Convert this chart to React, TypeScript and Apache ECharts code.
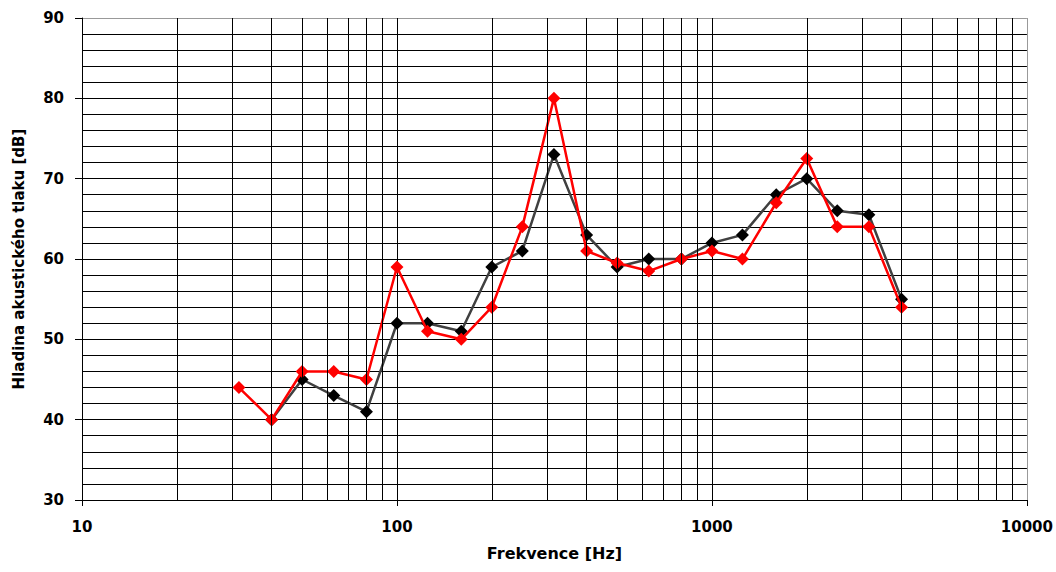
import React, { useEffect, useRef } from "react";
import * as echarts from "echarts";

const frequencies = [31.5, 40, 50, 63, 80, 100, 125, 160, 200, 250, 315, 400, 500, 630, 800, 1000, 1250, 1600, 2000, 2500, 3150, 4000];
const redLevels = [44, 40, 46, 46, 45, 59, 51, 50, 54, 64, 80, 61, 59.5, 58.5, 60, 61, 60, 67, 72.5, 64, 64, 54];
const blackLevels: (number | null)[] = [null, 40, 45, 43, 41, 52, 52, 51, 59, 61, 73, 63, 59, 60, 60, 62, 63, 68, 70, 66, 65.5, 55];
const minorFrequencies = [
  20, 30, 40, 50, 60, 70, 80, 90,
  200, 300, 400, 500, 600, 700, 800, 900,
  2000, 3000, 4000, 5000, 6000, 7000, 8000, 9000,
];

const FONT = "DejaVu Sans";

export default function App() {
  const ref = useRef<HTMLDivElement>(null);
  useEffect(() => {
    if (!ref.current) return;
    const chart = echarts.init(ref.current, undefined, { renderer: "svg" });
    const pair = (ys: (number | null)[]) => frequencies.map((f, i) => [f, ys[i]]);
    chart.setOption({
      animation: false,
      backgroundColor: "#ffffff",
      grid: { left: 82, right: 29, top: 18, bottom: 72 },
      xAxis: {
        type: "log",
        logBase: 10,
        min: 10,
        max: 10000,
        name: "Frekvence [Hz]",
        nameLocation: "middle",
        nameGap: 45,
        nameTextStyle: { fontFamily: FONT, fontWeight: "bold", fontSize: 16, color: "#000" },
        axisLine: { show: true, lineStyle: { color: "#000", width: 1 } },
        axisTick: { show: true, length: 6, lineStyle: { color: "#000" } },
        axisLabel: {
          fontFamily: FONT,
          fontWeight: "bold",
          fontSize: 15,
          color: "#000",
          margin: 19,
          formatter: (v: number) => String(Math.round(v)),
        },
        splitLine: { show: true, lineStyle: { color: ["#000", "#000", "#000", "#999"], width: 1 } },
      },
      yAxis: {
        type: "value",
        min: 30,
        max: 90,
        interval: 10,
        name: "Hladina akustického tlaku [dB]",
        nameLocation: "middle",
        nameGap: 56,
        nameTextStyle: { fontFamily: FONT, fontWeight: "bold", fontSize: 15, color: "#000" },
        axisLine: { show: true, lineStyle: { color: "#000", width: 1 } },
        axisTick: { show: true, length: 7, lineStyle: { color: "#000" } },
        axisLabel: { fontFamily: FONT, fontWeight: "bold", fontSize: 15, color: "#000", margin: 18 },
        splitLine: { show: true, lineStyle: { color: ["#000", "#000", "#000", "#000", "#000", "#000", "#999"], width: 1 } },
        minorTick: { show: false, splitNumber: 5 },
        minorSplitLine: { show: true, lineStyle: { color: "#000", width: 1 } },
      },
      series: [
        {
          type: "line",
          data: [],
          z: 1,
          silent: true,
          markLine: {
            silent: true,
            symbol: "none",
            label: { show: false },
            lineStyle: { color: "#000", type: "solid", width: 1 },
            emphasis: { disabled: true },
            data: minorFrequencies.map((f) => ({ xAxis: f })),
          },
        },
        {
          type: "line",
          data: pair(blackLevels),
          z: 3,
          symbol: "diamond",
          symbolSize: 13,
          connectNulls: false,
          lineStyle: { color: "#404040", width: 2.5 },
          itemStyle: { color: "#000" },
        },
        {
          type: "line",
          data: pair(redLevels),
          z: 4,
          symbol: "diamond",
          symbolSize: 13,
          lineStyle: { color: "#ff0000", width: 2.5 },
          itemStyle: { color: "#ff0000" },
        },
      ],
    });
    return () => chart.dispose();
  }, []);
  return (
    <div
      ref={ref}
      style={{ position: "fixed", left: 0, top: 0, width: 1056, height: 572, background: "#fff" }}
    />
  );
}
